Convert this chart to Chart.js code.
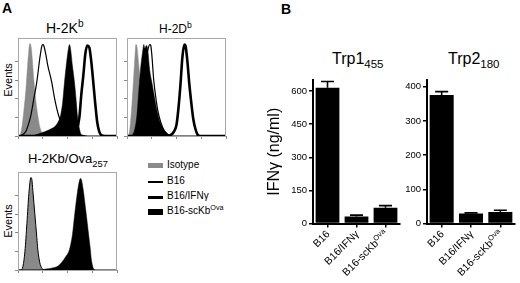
<!DOCTYPE html>
<html>
<head>
<meta charset="utf-8">
<script src="https://cdn.jsdelivr.net/npm/chart.js@4.4.1/dist/chart.umd.min.js"></script>
<style>
  html, body { margin: 0; padding: 0; background: #fff; }
  #fig { position: relative; width: 520px; height: 283px; overflow: hidden; font-family: "Liberation Sans", Arial, sans-serif; color: #000; }
  #fig canvas { position: absolute; }
  .t { position: absolute; white-space: nowrap; line-height: 1; }
  .t sub, .t sup { font-size: 0.72em; line-height: 0; }
  .sw { position: absolute; background: #000; }
</style>
</head>
<body>
<div id="fig">
  <div class="t" style="left:2px;top:1px;font-size:14px;font-weight:bold">A</div>
  <div class="t" style="left:281px;top:2px;font-size:14px;font-weight:bold">B</div>

  <div class="t" style="left:46px;top:21px;font-size:14px">H-2K<sup>b</sup></div>
  <div class="t" style="left:159px;top:23px;font-size:12px">H-2D<sup>b</sup></div>
  <div class="t" style="left:28px;top:152px;font-size:13px">H-2Kb/Ova<sub>257</sub></div>
  <div class="t" style="left:8px;top:80px;font-size:11px;transform:translate(-50%,-50%) rotate(-90deg)">Events</div>
  <div class="t" style="left:8px;top:221px;font-size:11px;transform:translate(-50%,-50%) rotate(-90deg)">Events</div>

  <div class="sw" style="left:148px;top:163px;width:15px;height:5px;background:#8a8a8a"></div>
  <div class="t" style="left:167px;top:160px;font-size:10px">Isotype</div>
  <div class="sw" style="left:148px;top:181px;width:15px;height:1.5px"></div>
  <div class="t" style="left:167px;top:176px;font-size:10px">B16</div>
  <div class="sw" style="left:148px;top:195.5px;width:15px;height:3px"></div>
  <div class="t" style="left:167px;top:191px;font-size:10px">B16/IFNγ</div>
  <div class="sw" style="left:148px;top:209px;width:15px;height:6px"></div>
  <div class="t" style="left:167px;top:206px;font-size:10px">B16-scKb<sup>Ova</sup></div>

  <div class="t" style="left:332px;top:51px;font-size:16px">Trp1<sub>455</sub></div>
  <div class="t" style="left:448px;top:51px;font-size:16px">Trp2<sub>180</sub></div>

  <canvas id="histKb" width="107" height="106" style="left:14px;top:34px"></canvas>
  <canvas id="histDb" width="107" height="106" style="left:123px;top:34px"></canvas>
  <canvas id="histOva" width="107" height="106" style="left:14px;top:168px"></canvas>
  <canvas id="trp1" width="144" height="213" style="left:261px;top:70px"></canvas>
  <canvas id="trp2" width="120" height="213" style="left:400px;top:70px"></canvas>
</div>
<script>
// histogram curves, [fluorescence (0-100, 4 log decades), % of max]
const kbIsotype = [[0,0],[2,1],[4,10],[6,28],[8,50],[10,80],[12,99],[13,97],[14,88],[16,60],[18,38],[20,22],[22,10],[24,4],[26,1],[28,0]];
const kbB16 = [[0,0],[4,1],[8,5],[11,14],[13,22],[16,40],[19,58],[22,83],[24,96],[25,98],[26,97],[28,88],[30,76],[34,58],[37,40],[41,22],[45,12],[50,7],[55,4],[60,2],[66,0.5],[70,0],[100,0]];
const kbIfn = [[0,0],[50,0],[56,1],[59,5],[62,20],[64,45],[66,65],[68,88],[70,97],[72,95],[74,80],[76,58],[78,35],[80,15],[82,5],[84,1],[88,0],[100,0]];
const kbOva = [[14,0],[20,2],[28,5],[34,8],[38,11],[41,16],[43,22],[45,35],[47,58],[49,78],[51,94],[52,98],[53,94],[55,75],[57,58],[59,35],[60,22],[62,8],[64,1],[66,0]];

const dbIsotype = [[0,0],[2,2],[4,20],[6,50],[8,85],[9,98],[10,96],[12,75],[14,50],[16,30],[18,15],[20,6],[23,1],[26,0]];
const dbB16 = [[0,0],[4,0],[8,3],[12,15],[16,45],[19,80],[21,92],[23,98],[24,97],[25,88],[27,60],[29,42],[31,28],[34,15],[37,7],[40,3],[44,0],[100,0]];
const dbIfn = [[0,0],[40,0],[44,1],[47,4],[50,12],[52,30],[54,55],[56,85],[58,98],[59,97],[61,80],[63,55],[65,35],[67,18],[69,8],[71,2],[74,0],[100,0]];
const dbOva = [[4,0],[6,2],[8,8],[10,22],[12,50],[14,75],[16,92],[17,98],[18,94],[19,96],[20,97],[21,92],[23,70],[25,58],[27,46],[29,34],[31,24],[33,16],[36,9],[39,4],[42,1],[45,0]];

const tetIsotype = [[0,0],[3,0],[5,4],[7,20],[9,50],[11,82],[13,99],[14,97],[15,85],[17,60],[19,35],[20,22],[22,8],[24,2],[26,0]];
const tetOva = [[24,0],[28,1],[34,2],[40,4],[44,8],[48,14],[52,22],[55,38],[57,57],[59,75],[61,90],[63,98],[64,97],[66,85],[68,68],[70,50],[72,32],[73,23],[74,12],[76,2],[78,0]];
const tetBase = [[0,0],[100,0]];

// IFN-gamma release
const barLabels = ['B16', 'B16/IFNγ', 'B16-scKb'];
const barSups = ['', '', 'Ova'];
const trp1Values = [615, 32, 71];
const trp1Errors = [28, 6, 10];
const trp2Values = [376, 29, 34];
const trp2Errors = [10, 2, 5];
const trp1Ticks = [0, 150, 300, 450, 600];
const trp2Ticks = [0, 100, 200, 300, 400];

const pts = arr => arr.map(p => ({ x: p[0], y: p[1] }));
const GREY = '#8a8a8a';
const FONT = '"Liberation Sans", Arial, sans-serif';

// grey frame round the plot area
const frame = {
  id: 'frame',
  afterDatasetsDraw(chart) {
    const a = chart.chartArea, ctx = chart.ctx;
    ctx.save();
    ctx.strokeStyle = '#a8a8a8';
    ctx.lineWidth = 1;
    ctx.strokeRect(a.left + 0.5, a.top + 0.5, a.right - a.left - 1, a.bottom - a.top);
    ctx.restore();
  }
};

function fill(data, color, order, border) {
  return { data: pts(data), fill: 'origin', backgroundColor: color, borderColor: border || color, borderWidth: border ? 1 : 0.5, order: order };
}
function outline(data, width, order) {
  return { data: pts(data), fill: false, borderColor: '#000', borderWidth: width, order: order };
}

function makeHist(id, datasets) {
  new Chart(document.getElementById(id), {
    type: 'line',
    data: { datasets: datasets },
    options: {
      responsive: false,
      animation: false,
      layout: { padding: { top: 4, right: 4 } },
      plugins: { legend: { display: false }, tooltip: { enabled: false } },
      elements: { point: { radius: 0 }, line: { cubicInterpolationMode: 'monotone' } },
      scales: {
        x: {
          type: 'linear', min: 0, max: 100,
          ticks: { display: false, stepSize: 25 },
          grid: { drawOnChartArea: false, tickLength: 3, color: '#888' },
          border: { display: false },
          afterFit: s => { s.height = 4; }
        },
        y: {
          min: 0, max: 105,
          ticks: { display: false, stepSize: 20 },
          afterBuildTicks: s => { s.ticks = s.ticks.filter(t => t.value <= 100); },
          grid: { drawOnChartArea: false, tickLength: 3, color: '#888' },
          border: { display: false },
          afterFit: s => { s.width = 4; }
        }
      }
    },
    plugins: [frame]
  });
}

makeHist('histKb', [
  fill(kbIsotype, GREY, 4),
  fill(kbOva, '#000', 3),
  outline(kbB16, 1.2, 2),
  outline(kbIfn, 2.6, 1)
]);
makeHist('histDb', [
  fill(dbIsotype, GREY, 4),
  fill(dbOva, '#000', 3),
  outline(dbB16, 1.2, 2),
  outline(dbIfn, 2.6, 1)
]);
makeHist('histOva', [
  fill(tetIsotype, GREY, 4, '#000'),
  fill(tetOva, '#000', 3),
  outline(tetBase, 1, 2)
]);

// error bars on top of each bar
const errorBars = {
  id: 'errorBars',
  afterDatasetsDraw(chart, args, opts) {
    const ctx = chart.ctx, y = chart.scales.y;
    const values = chart.data.datasets[0].data;
    ctx.save();
    ctx.strokeStyle = '#000';
    ctx.lineWidth = 1.6;
    chart.getDatasetMeta(0).data.forEach((bar, i) => {
      const top = y.getPixelForValue(values[i] + opts.errors[i]);
      ctx.beginPath();
      ctx.moveTo(bar.x, bar.y);
      ctx.lineTo(bar.x, top);
      ctx.moveTo(bar.x - 6.5, top);
      ctx.lineTo(bar.x + 6.5, top);
      ctx.stroke();
    });
    ctx.restore();
  }
};

// slanted category labels (with superscript)
const slantLabels = {
  id: 'slantLabels',
  afterDraw(chart) {
    const ctx = chart.ctx, x = chart.scales.x;
    const mainFont = '10.5px ' + FONT, supFont = '7.5px ' + FONT;
    ctx.save();
    ctx.fillStyle = '#000';
    ctx.textBaseline = 'alphabetic';
    ctx.textAlign = 'left';
    barLabels.forEach((label, i) => {
      ctx.font = mainFont;
      const wMain = ctx.measureText(label).width;
      ctx.font = supFont;
      const wSup = barSups[i] ? ctx.measureText(barSups[i]).width : 0;
      ctx.save();
      ctx.translate(x.getPixelForValue(i) + 3, x.top + 11);
      ctx.rotate(-Math.PI / 4);
      ctx.font = mainFont;
      ctx.fillText(label, -(wMain + wSup), 0);
      if (wSup) {
        ctx.font = supFont;
        ctx.fillText(barSups[i], -wSup, -4);
      }
      ctx.restore();
    });
    ctx.restore();
  }
};

function makeBars(id, values, errors, tickValues, yMax, axisWidth, showTitle) {
  new Chart(document.getElementById(id), {
    type: 'bar',
    data: {
      labels: barLabels,
      datasets: [{ data: values, backgroundColor: '#000', barPercentage: 0.82, categoryPercentage: 1 }]
    },
    options: {
      responsive: false,
      animation: false,
      layout: { padding: { top: 10, right: 5 } },
      plugins: {
        legend: { display: false },
        tooltip: { enabled: false },
        errorBars: { errors: errors }
      },
      scales: {
        x: {
          ticks: { display: false },
          grid: { drawOnChartArea: false, offset: false, tickLength: 4, color: '#000', lineWidth: 1.5 },
          border: { color: '#000', width: 2 },
          afterFit: s => { s.height = 59.5; }
        },
        y: {
          min: 0, max: yMax,
          afterBuildTicks: s => { s.ticks = tickValues.map(v => ({ value: v })); },
          ticks: { color: '#000', font: { family: FONT, size: 9.5 }, padding: 2 },
          grid: { drawOnChartArea: false, tickLength: 4, color: '#000', lineWidth: 1.5 },
          border: { color: '#000', width: 2 },
          title: { display: showTitle, text: 'IFNγ (ng/ml)', color: '#000', font: { family: FONT, size: 16 }, padding: { top: 4, bottom: 0 } },
          afterFit: s => { s.width = axisWidth; }
        }
      }
    },
    plugins: [errorBars, slantLabels]
  });
}

makeBars('trp1', trp1Values, trp1Errors, trp1Ticks, 650, 52, true);
makeBars('trp2', trp2Values, trp2Errors, trp2Ticks, 420, 27, false);
</script>
</body>
</html>
